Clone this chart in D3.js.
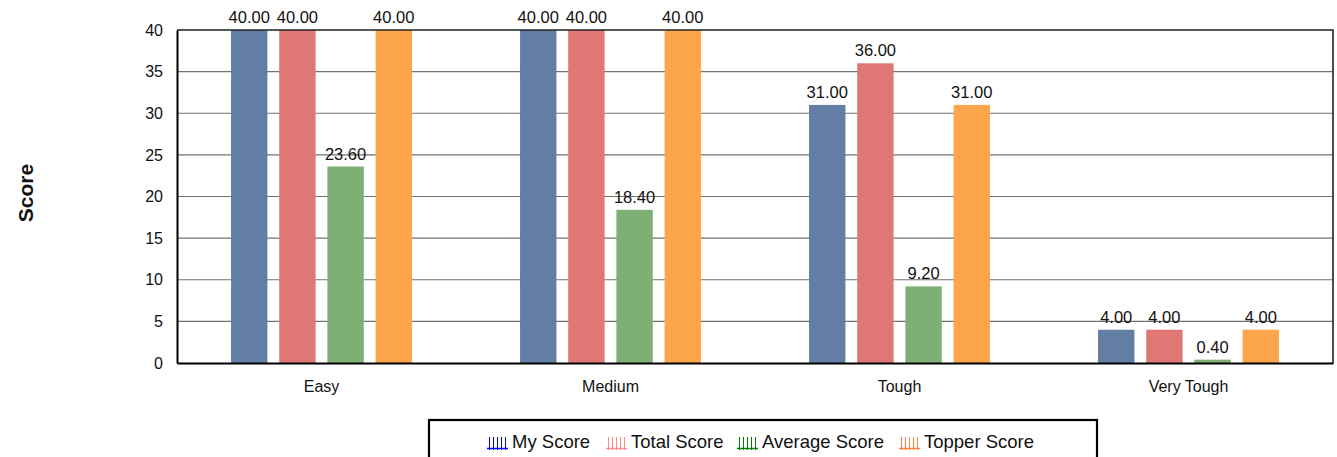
<!DOCTYPE html>
<html>
<head>
<meta charset="utf-8">
<script src="https://cdn.jsdelivr.net/npm/d3@7"></script>
<style>
  html, body { margin: 0; padding: 0; background: #fff; }
  svg { display: block; font-family: "Liberation Sans", Arial, sans-serif; }
</style>
</head>
<body>
<svg id="chart" width="1337" height="457"></svg>
<script>
// Score per difficulty level for each series
const categories = ["Easy", "Medium", "Tough", "Very Tough"];
const seriesNames = ["My Score", "Total Score", "Average Score", "Topper Score"];
const myScore = [40, 40, 31, 4];
const totalScore = [40, 40, 36, 4];
const averageScore = [23.6, 18.4, 9.2, 0.4];
const topperScore = [40, 40, 31, 4];
const yTicks = [0, 5, 10, 15, 20, 25, 30, 35, 40];

const barColors = ["#637ea5", "#df7874", "#7cb173", "#fda54a"];
const legendColors = ["#0000ff", "#ff8c8c", "#008000", "#ff8040"];

const seriesValues = [myScore, totalScore, averageScore, topperScore];
const rows = categories.map((c, i) => ({
  category: c,
  values: seriesNames.map((s, j) => ({ series: s, value: seriesValues[j][i], idx: j }))
}));

const svg = d3.select("#chart");
const plotLeft = 177, plotRight = 1333, plotTop = 30, plotBottom = 363;
const fontFamily = "Liberation Sans, Arial, sans-serif";

const x0 = d3.scaleBand().domain(categories).range([plotLeft, plotRight]).padding(0);
const groupInset = x0.bandwidth() * 0.187;
const x1 = d3.scaleBand().domain(seriesNames)
  .range([groupInset, x0.bandwidth() - groupInset])
  .paddingInner(0.245).paddingOuter(0);
const y = d3.scaleLinear().domain([0, 40]).range([plotBottom, plotTop]);

// horizontal gridlines
svg.append("g").selectAll("line").data(yTicks.filter(t => t > 0 && t < 40)).join("line")
  .attr("x1", plotLeft).attr("x2", plotRight)
  .attr("y1", d => y(d)).attr("y2", d => y(d))
  .attr("stroke", "#707070").attr("stroke-width", 1.2);

// bars
const groups = svg.append("g").selectAll("g").data(rows).join("g")
  .attr("transform", d => `translate(${x0(d.category)},0)`);
groups.selectAll("rect").data(d => d.values).join("rect")
  .attr("x", d => x1(d.series))
  .attr("width", x1.bandwidth())
  .attr("y", d => y(d.value))
  .attr("height", d => y(0) - y(d.value))
  .attr("fill", d => barColors[d.idx]);

// value labels
groups.selectAll("text").data(d => d.values).join("text")
  .attr("x", d => x1(d.series) + x1.bandwidth() / 2)
  .attr("y", d => y(d.value) - 7)
  .attr("text-anchor", "middle")
  .attr("font-size", 16.5)
  .attr("fill", "#111")
  .text(d => d.value.toFixed(2));

// plot frame: top and right
svg.append("path")
  .attr("d", `M${plotLeft},${plotTop}H${plotRight}V${plotBottom}`)
  .attr("fill", "none").attr("stroke", "#222").attr("stroke-width", 1.6);

// y axis
const yAxis = svg.append("g").attr("transform", `translate(${plotLeft},0)`)
  .call(d3.axisLeft(y).tickValues(yTicks).tickSize(0).tickPadding(14).tickFormat(d3.format("d")));
yAxis.attr("font-size", 16).attr("font-family", fontFamily);
yAxis.select(".domain").attr("stroke", "#000").attr("stroke-width", 2);
yAxis.selectAll("text").attr("fill", "#111");

// x axis
const xAxis = svg.append("g").attr("transform", `translate(0,${plotBottom})`)
  .call(d3.axisBottom(x0).tickSize(0).tickPadding(18));
xAxis.attr("font-size", 16).attr("font-family", fontFamily);
xAxis.select(".domain").attr("stroke", "#000").attr("stroke-width", 2);
xAxis.selectAll("text").attr("fill", "#111");

// y axis title
svg.append("text")
  .attr("transform", "translate(33,193) rotate(-90)")
  .attr("text-anchor", "middle")
  .attr("font-size", 21).attr("font-weight", "bold").attr("fill", "#111")
  .text("Score");

// legend
const legendBox = { x: 429, y: 420, w: 668, h: 45 };
svg.append("rect")
  .attr("x", legendBox.x).attr("y", legendBox.y)
  .attr("width", legendBox.w).attr("height", legendBox.h)
  .attr("fill", "#fff").attr("stroke", "#000").attr("stroke-width", 2.2);

const legendX = [487, 606, 737, 899];
const legend = svg.append("g").selectAll("g").data(seriesNames).join("g")
  .attr("transform", (d, i) => `translate(${legendX[i]},437)`);
legend.each(function(d, i) {
  const g = d3.select(this);
  const c = legendColors[i];
  // hatched swatch: vertical strokes over a base line
  for (let k = 0; k < 5; k++) {
    g.append("line").attr("x1", 2.5 + k * 4).attr("x2", 2.5 + k * 4)
      .attr("y1", 0).attr("y2", 13).attr("stroke", c).attr("stroke-width", 1);
  }
  g.append("line").attr("x1", 0).attr("x2", 21).attr("y1", 11.5).attr("y2", 11.5)
    .attr("stroke", c).attr("stroke-width", 1.5);
  g.append("text").attr("x", 25).attr("y", 10.5).attr("font-size", 18.5)
    .attr("font-family", fontFamily).attr("fill", "#111").text(d);
});
</script>
</body>
</html>
